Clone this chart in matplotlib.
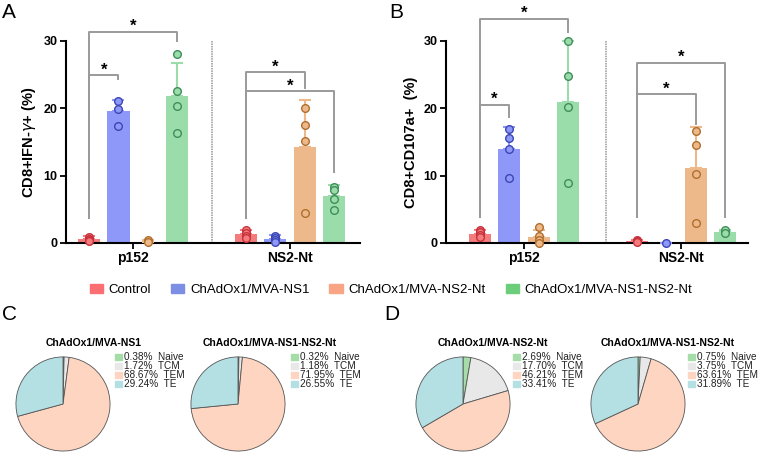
import matplotlib
matplotlib.use("Agg")
import matplotlib.pyplot as plt
from matplotlib.patches import Patch, Rectangle

plt.rcParams['font.family'] = ['Liberation Sans', 'DejaVu Sans']

# ---- data ----
groups = ['Control', 'ChAdOx1/MVA-NS1', 'ChAdOx1/MVA-NS2-Nt', 'ChAdOx1/MVA-NS1-NS2-Nt']
peptides = ['p152', 'NS2-Nt']

# panel A: CD8+IFN-g+ (%)
ifn_mean = [[0.6, 19.6, 0.1, 21.8], [1.4, 0.6, 14.3, 7.0]]
ifn_sd = [[0.4, 1.6, 0.3, 5.0], [0.6, 0.6, 6.9, 1.6]]
ifn_pts = [
    [[0.9, 0.6, 0.4, 0.3], [21.1, 19.9, 17.4], [0.4, 0.1], [28.1, 22.5, 20.3, 16.4]],
    [[1.9, 1.5, 1.1, 0.8], [1.1, 0.8, 0.5, 0.2], [20.1, 17.5, 15.2, 4.4], [8.3, 7.9, 6.6, 4.9]],
]

# panel B: CD8+CD107a+ (%)
cd107_mean = [[1.4, 14.0, 0.9, 21.0], [0.3, 0.0, 11.1, 1.7]]
cd107_sd = [[0.5, 3.2, 1.1, 9.0], [0.15, 0.0, 6.1, 0.3]]
cd107_pts = [
    [[2.0, 1.6, 1.2, 0.9], [17.0, 15.6, 13.9, 9.7], [2.4, 1.0, 0.4, 0.0], [30.0, 24.8, 20.2, 8.9]],
    [[0.4, 0.3, 0.1], [0.0], [16.7, 14.5, 10.2, 2.9], [1.9, 1.5]],
]

# significant comparisons: (peptide index, group a, group b)
sig_A = [(0, 0, 1), (0, 0, 3), (1, 0, 2), (1, 0, 3)]
sig_B = [(0, 0, 1), (0, 0, 3), (1, 0, 2), (1, 0, 3)]

# pie charts: memory subsets
subsets = ['Naive', 'TCM', 'TEM', 'TE']
pie_titles = ['ChAdOx1/MVA-NS1', 'ChAdOx1/MVA-NS1-NS2-Nt',
              'ChAdOx1/MVA-NS2-Nt', 'ChAdOx1/MVA-NS1-NS2-Nt']
pie_vals = [
    [0.38, 1.72, 68.67, 29.24],
    [0.32, 1.18, 71.95, 26.55],
    [2.69, 17.70, 46.21, 33.41],
    [0.75, 3.75, 63.61, 31.89],
]

# ---- styles ----
bar_colors = ['#f47c7c', '#8d98f8', '#eeb98a', '#9adcaa']
edge_colors = ['#c8323c', '#3c46b4', '#b06e2c', '#3e8e5a']
legend_colors = ['#fb6f73', '#7d8ee5', '#f9a585', '#6cce7a']
pie_colors = ['#a6dca8', '#e8e8e8', '#fdd5c0', '#b4e0e4']


def bar_panel(ax, means, sds, pts, sig, offsets, xlim, sep, bracket_y, ylabel):
    for p in range(2):
        for g in range(4):
            x = offsets[p] + g
            ax.bar(x, means[p][g], width=0.75, color=bar_colors[g], zorder=2)
            ax.errorbar(x, means[p][g], yerr=[[0], [sds[p][g]]], fmt='none',
                        ecolor=bar_colors[g], elinewidth=1.5, capsize=4,
                        capthick=1.5, zorder=3, clip_on=False)
            ax.plot([x] * len(pts[p][g]), pts[p][g], 'o', ms=5.5,
                    mfc=bar_colors[g], mec=edge_colors[g], mew=1.0,
                    zorder=4, clip_on=False)
    # group separator
    ax.plot([sep, sep], [0, 30], color='#999999', lw=1.1, ls=(0, (1, 0.6)))

    for (p, a, b), (top, lo_a, lo_b) in zip(sig, bracket_y):
        xa, xb = offsets[p] + a, offsets[p] + b
        ax.plot([xa, xa, xb, xb], [lo_a, top, top, lo_b], color='#9a9a9a',
                lw=1.4, clip_on=False, zorder=1)
        ax.annotate('*', ((xa + xb) / 2, top), xytext=(0, 0.5),
                    textcoords='offset points', ha='center', va='baseline',
                    fontsize=12, fontweight='bold', annotation_clip=False)

    ax.set_xlim(*xlim)
    ax.set_ylim(0, 30)
    ax.set_yticks([0, 10, 20, 30])
    ax.set_xticks([o + 1.5 for o in offsets])
    ax.set_xticklabels(peptides, fontsize=10, fontweight='bold')
    for t in ax.get_yticklabels():
        t.set_fontweight('bold')
        t.set_fontsize(9)
    ax.tick_params(width=1.3, length=4, pad=2)
    ax.spines['top'].set_visible(False)
    ax.spines['right'].set_visible(False)
    ax.spines['left'].set_linewidth(1.5)
    ax.spines['bottom'].set_linewidth(1.5)
    ax.spines['left'].set_bounds(0, 30)
    ax.set_ylabel(ylabel, fontsize=10.5, fontweight='bold', labelpad=4)


fig = plt.figure(figsize=(7.6, 4.54), dpi=100)

axA = fig.add_axes([0.0868, 0.4648, 0.3868, 0.4449])
bar_panel(axA, ifn_mean, ifn_sd, ifn_pts, sig_A, [0, 5.32], (-0.78, 9.19), 4.17,
          [(24.9, 3.7, 24.4), (31.4, 3.7, 30.0), (25.4, 3.7, 23.0), (22.5, 3.7, 10.6)],
          'CD8+IFN-$\\gamma$+ (%)')

axB = fig.add_axes([0.5868, 0.4648, 0.3974, 0.4449])
bar_panel(axB, cd107_mean, cd107_sd, cd107_pts, sig_B, [0, 5.36], (-1.16, 9.15), 4.3,
          [(20.5, 3.9, 18.7), (33.3, 3.9, 31.4), (22.1, 3.9, 17.7), (26.8, 3.9, 3.9)],
          'CD8+CD107a+  (%)')

handles = [Patch(color=c, label=l) for c, l in zip(legend_colors, groups)]
fig.legend(handles=handles, loc='center', bbox_to_anchor=(391 / 760, 1 - 290 / 454),
           ncol=4, frameon=False, fontsize=9.5, handlelength=1.0, handleheight=0.7,
           handletextpad=0.45, columnspacing=1.5, borderpad=0)

# pies: center x, title x, legend x (pixels)
pie_cx = [63, 238, 463, 638]
title_cx = [94, 270, 493, 668]
leg_x = [115, 291, 513, 688]
W, H = 760, 454
for i in range(4):
    r = 48
    ax = fig.add_axes([(pie_cx[i] - r) / W, 1 - (404 + r) / H, 2 * r / W, 2 * r / H])
    ax.pie(pie_vals[i], colors=pie_colors, startangle=90, counterclock=False,
           wedgeprops=dict(edgecolor='#555555', linewidth=0.6))
    ax.set_xlim(-1.02, 1.02)
    ax.set_ylim(-1.02, 1.02)
    fig.text(title_cx[i] / W, 1 - 343 / H, pie_titles[i], ha='center', va='center',
             fontsize=7.5, fontweight='bold')
    for j, (v, s) in enumerate(zip(pie_vals[i], subsets)):
        yc = 357 + 9 * j
        fig.patches.append(Rectangle((leg_x[i] / W, 1 - (yc + 3) / H), 7 / W, 6 / H,
                                     transform=fig.transFigure, color=pie_colors[j]))
        fig.text((leg_x[i] + 9) / W, 1 - yc / H, f'{v:.2f}%  {s}', ha='left',
                 va='center', fontsize=7.2, color='#222222')

for letter, x, y in [('A', 2, 13), ('B', 389, 13), ('C', 2, 315), ('D', 384, 315)]:
    fig.text(x / W, 1 - y / H, letter, fontsize=15, ha='left', va='center')

fig.savefig('out.png', dpi=100)
